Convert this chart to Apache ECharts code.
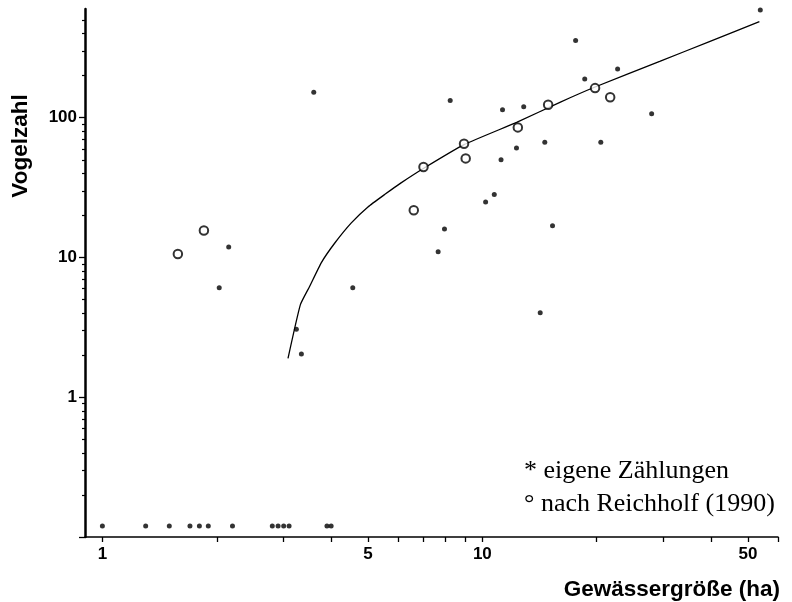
<!DOCTYPE html>
<html>
<head>
<meta charset="utf-8">
<script src="https://cdn.jsdelivr.net/npm/echarts@6/dist/echarts.min.js"></script>
<style>html,body{margin:0;padding:0;background:#fff}#c{width:792px;height:602px}</style>
</head>
<body>
<div id="c"></div>
<script>
// ---- data (x = Gewässergröße in ha, y = Vogelzahl) ----
const eigeneX = [53.9, 17.6, 22.7, 18.6, 8.23, 11.3, 12.85, 27.9, 12.3, 14.6, 20.5, 11.2, 10.75, 10.2, 7.95, 7.65, 15.3, 14.2, 3.6, 2.15, 2.03, 4.56, 3.24, 3.34,
                 1.0, 1.3, 1.5, 1.7, 1.8, 1.9, 2.2, 2.8, 2.9, 3.0, 3.1, 3.9, 4.0];
const eigeneY = [590, 357, 223, 189, 133, 114, 120, 107, 60.7, 66.7, 66.7, 50.1, 28.2, 25.0, 16.0, 11.0, 16.9, 4.03, 152, 11.9, 6.07, 6.07, 3.06, 2.04,
                 0.12, 0.12, 0.12, 0.12, 0.12, 0.12, 0.12, 0.12, 0.12, 0.12, 0.12, 0.12, 0.12];
const reichholfX = [1.58, 1.85, 6.6, 7.0, 8.95, 9.04, 12.4, 14.9, 19.8, 21.7];
const reichholfY = [10.6, 15.6, 21.8, 44.4, 65.2, 51.2, 85.3, 124, 163, 140];
const curveX = [3.08, 3.32, 3.51, 3.77, 4.09, 4.52, 5.0, 5.53, 6.11, 7.03, 8.95, 12.35, 16.0, 19.8, 29.3, 39.6, 53.6];
const curveY = [1.9, 4.6, 6.2, 9.2, 12.7, 17.7, 23.0, 28.2, 34.2, 43.7, 64.2, 93, 129, 166, 253, 351, 487];

const xTicks = [1, 2, 3, 4, 5, 6, 7, 8, 9, 10, 20, 30, 40, 50, 60];
const xLabels = [1, 5, 10, 50];
const yMajorTicks = [0.1, 1, 10, 100];
const yMinorTicks = [0.2, 0.3, 0.4, 0.5, 0.6, 0.7, 0.8, 0.9, 2, 3, 4, 5, 6, 7, 8, 9, 20, 30, 40, 50, 60, 70, 80, 90, 200, 300, 400, 500];
const yLabels = [1, 10, 100];
const seriesNames = ['eigene Zählungen', 'nach Reichholf (1990)'];
const legendMarks = ['*', '°'];

const zip = (a, b) => a.map((v, i) => [v, b[i]]);
const SANS = '"Liberation Sans", Arial, Helvetica, sans-serif';
const SERIF = '"Liberation Serif", "Times New Roman", serif';

const chart = echarts.init(document.getElementById('c'), null, {renderer: 'canvas'});
chart.setOption({
  animation: false,
  backgroundColor: '#fff',
  grid: {left: 85, right: 14, top: 9, bottom: 65, containLabel: false},
  legend: {
    data: seriesNames,
    orient: 'vertical',
    left: 513, top: 453,
    itemWidth: 0, itemHeight: 0, itemGap: 7,
    selectedMode: false,
    formatter: name => legendMarks[seriesNames.indexOf(name)] + ' ' + name,
    textStyle: {fontFamily: SERIF, fontSize: 26, color: '#000'}
  },
  xAxis: [{
    type: 'log', logBase: 10, min: 0.9, max: 60,
    axisLine: {lineStyle: {color: '#000', width: 1.5}},
    axisTick: {customValues: xTicks, length: 5, lineStyle: {color: '#000', width: 1.3}},
    axisLabel: {customValues: xLabels, margin: 9, color: '#000', fontFamily: SANS, fontSize: 17, fontWeight: 'bold'},
    splitLine: {show: false},
    name: 'Gewässergröße (ha)', nameLocation: 'end', nameGap: 2,
    nameTextStyle: {align: 'right', verticalAlign: 'top', padding: [41, 0, 0, 0], fontFamily: SANS, fontSize: 22.5, fontWeight: 'bold', color: '#000'}
  }],
  yAxis: [{
    type: 'log', logBase: 10, min: 0.1, max: 600, position: 'left',
    axisLine: {lineStyle: {color: '#000', width: 2.5}},
    axisTick: {customValues: yMajorTicks, length: 6, lineStyle: {color: '#000', width: 1.3}},
    axisLabel: {customValues: yLabels, margin: 8, color: '#000', fontFamily: SANS, fontSize: 17, fontWeight: 'bold'},
    splitLine: {show: false},
    name: 'Vogelzahl', nameLocation: 'middle', nameRotate: 90, nameGap: 53,
    nameTextStyle: {padding: [0, 0, 0, 254], fontFamily: SANS, fontSize: 22.5, fontWeight: 'bold', color: '#000'}
  }, {
    type: 'log', logBase: 10, min: 0.1, max: 600, position: 'left', offset: 0,
    axisLine: {show: false},
    axisTick: {customValues: yMinorTicks, length: 3, lineStyle: {color: '#000', width: 1.2}},
    axisLabel: {show: false},
    splitLine: {show: false}
  }],
  series: [{
    name: seriesNames[0], type: 'scatter', xAxisIndex: 0, yAxisIndex: 0,
    data: zip(eigeneX, eigeneY), symbol: 'circle', symbolSize: 5,
    itemStyle: {color: '#000'}, z: 3
  }, {
    name: seriesNames[1], type: 'scatter', xAxisIndex: 0, yAxisIndex: 0,
    data: zip(reichholfX, reichholfY), symbol: 'circle', symbolSize: 8.5,
    itemStyle: {color: '#fff', borderColor: '#000', borderWidth: 2}, z: 4
  }, {
    name: 'Regression', type: 'line', xAxisIndex: 0, yAxisIndex: 0,
    data: zip(curveX, curveY), showSymbol: false, smooth: 0.15,
    lineStyle: {color: '#000', width: 1.3}, z: 2
  }]
});
</script>
</body>
</html>
